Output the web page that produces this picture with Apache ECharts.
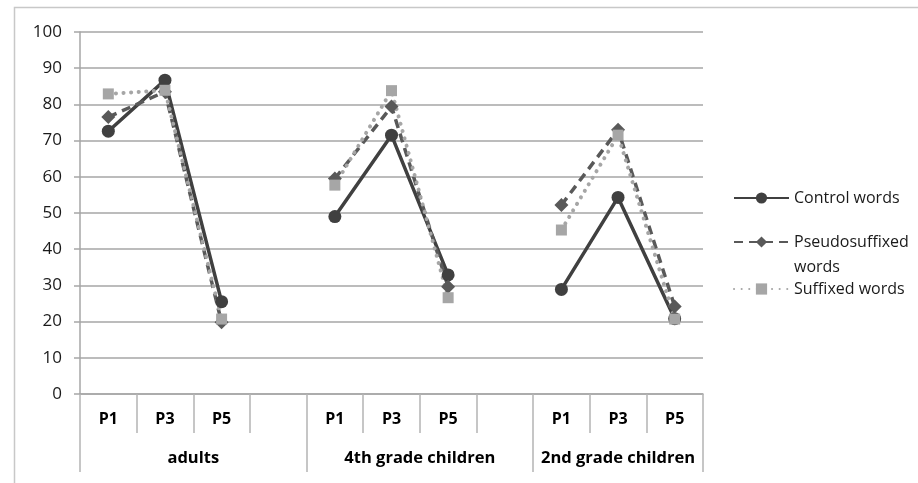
<!DOCTYPE html>
<html>
<head>
<meta charset="utf-8">
<script src="https://cdn.jsdelivr.net/npm/echarts@6/dist/echarts.min.js"></script>
<style>html,body{margin:0;padding:0;background:#fff}#c{width:918px;height:483px}</style>
</head>
<body>
<div id="c"></div>
<script>
// ---- data ----
var categories = ['P1', 'P3', 'P5', '', 'P1', 'P3', 'P5', '', 'P1', 'P3', 'P5'];
var groupNames = ['adults', '4th grade children', '2nd grade children'];
var groupSpans = [4, 4, 3];
var controlWords = [72.6, 86.7, 25.5, null, 49.0, 71.5, 32.9, null, 28.9, 54.3, 20.8];
var pseudoWords = [76.5, 83.5, 19.8, null, 59.5, 79.4, 29.6, null, 52.2, 73.0, 24.2];
var suffixedWords = [82.9, 83.9, 20.7, null, 57.7, 83.8, 26.6, null, 45.3, 71.5, 20.7];
var yTicks = [0, 10, 20, 30, 40, 50, 60, 70, 80, 90, 100];

// ---- build group axis (half-category points, boundaryGap false) ----
var total = categories.length;
var groupData = [];
for (var i = 0; i <= total * 2; i++) groupData.push('');
var boundaries = [0];
var acc = 0;
groupSpans.forEach(function (s, k) {
  var center = acc * 2 + s;      // in half units
  groupData[center] = groupNames[k];
  acc += s;
  boundaries.push(acc * 2);
});

var FONT = '"Open Sans", Lato, sans-serif';
var TXT = '#1a1a1a';
var chart = echarts.init(document.getElementById('c'));
chart.setOption({
  animation: false,
  backgroundColor: '#fff',
  textStyle: { fontFamily: FONT },
  graphic: [{
    type: 'rect', silent: true, z: -10,
    shape: { x: 14.5, y: 7.5, width: 1000, height: 1000 },
    style: { fill: 'none', stroke: '#c8c8c8', lineWidth: 1.5 }
  }],
  grid: { left: 80, right: 215, top: 32, bottom: 89, containLabel: false },
  legend: [
    { data: ['Control words'], orient: 'vertical', left: 733, top: 190, padding: 0,
      itemWidth: 55, itemHeight: 14, itemGap: 0,
      textStyle: { fontSize: 16, color: TXT, fontFamily: FONT } },
    { data: ['Pseudosuffixed words'], orient: 'vertical', left: 733, top: 209, padding: 0,
      itemWidth: 55, itemHeight: 14,
      formatter: function () { return '{a| }\n{a|Pseudosuffixed}\n{a|words}'; },
      textStyle: { fontSize: 16, color: TXT, fontFamily: FONT,
        rich: { a: { fontSize: 16, color: TXT, lineHeight: 25, fontFamily: FONT } } } },
    { data: ['Suffixed words'], orient: 'vertical', left: 733, top: 281, padding: 0,
      itemWidth: 55, itemHeight: 14,
      textStyle: { fontSize: 16, color: TXT, fontFamily: FONT } }
  ],
  xAxis: [{
    type: 'category',
    data: categories,
    position: 'bottom',
    axisLine: { show: true, lineStyle: { color: '#a6a6a6', width: 1.5 } },
    axisTick: { show: true, interval: 0, length: 39, lineStyle: { color: '#b4b4b4', width: 1.5 } },
    axisLabel: { interval: 0, margin: 17, fontSize: 16, fontWeight: 'bold', color: '#000', fontFamily: FONT },
    splitLine: { show: false }
  }, {
    type: 'category',
    data: groupData,
    boundaryGap: false,
    position: 'bottom',
    axisLine: { show: false },
    axisTick: {
      show: true, length: 78,
      interval: function (idx) { return boundaries.indexOf(idx) >= 0; },
      lineStyle: { color: '#b4b4b4', width: 1.5 }
    },
    axisLabel: { interval: 0, margin: 56, fontSize: 16.5, fontWeight: 'bold', color: '#000', fontFamily: FONT },
    splitLine: { show: false }
  }],
  yAxis: {
    type: 'value',
    min: yTicks[0], max: yTicks[yTicks.length - 1], interval: 10,
    axisLine: { show: true, lineStyle: { color: '#a6a6a6', width: 1.5 } },
    axisTick: { show: true, length: 6, lineStyle: { color: '#a6a6a6', width: 1.5 } },
    axisLabel: { margin: 18, fontSize: 17, color: TXT, fontFamily: FONT },
    splitLine: { show: true, lineStyle: { color: '#a6a6a6', width: 1.5 } }
  },
  series: [{
    name: 'Control words', type: 'line', data: controlWords, xAxisIndex: 0,
    symbol: 'circle', symbolSize: 13, connectNulls: false,
    itemStyle: { color: '#404040' },
    lineStyle: { color: '#404040', width: 3.5, type: 'solid' }
  }, {
    name: 'Pseudosuffixed words', type: 'line', data: pseudoWords, xAxisIndex: 0,
    symbol: 'diamond', symbolSize: 14, connectNulls: false,
    itemStyle: { color: '#595959' },
    lineStyle: { color: '#595959', width: 3.5, type: [9, 6] }
  }, {
    name: 'Suffixed words', type: 'line', data: suffixedWords, xAxisIndex: 0,
    symbol: 'rect', symbolSize: 11, connectNulls: false,
    itemStyle: { color: '#a6a6a6' },
    lineStyle: { color: '#a6a6a6', width: 4, type: [0.1, 7.5], cap: 'round' }
  }]
});
</script>
</body>
</html>
